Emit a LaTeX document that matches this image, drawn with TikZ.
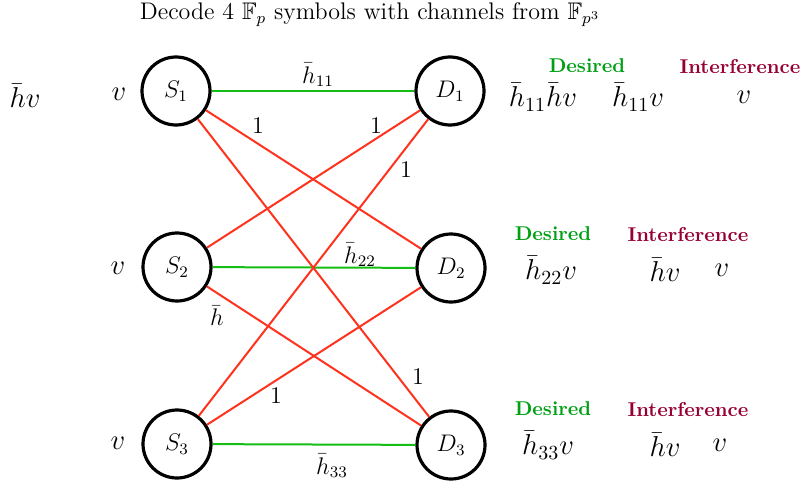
\documentclass[tikz,border=0pt]{standalone}
\usepackage{amssymb}
\definecolor{lgreen}{RGB}{20,190,20}
\definecolor{lred}{RGB}{255,50,30}
\definecolor{dgreen}{RGB}{0,160,20}
\definecolor{dpurple}{RGB}{150,0,50}
\begin{document}
\begin{tikzpicture}[x=0.5pt,y=-0.5pt,
  nd/.style={circle,draw,line width=1.6pt,minimum size=34pt,inner sep=0pt,font=\large},
  ge/.style={draw=lgreen,line width=1pt},
  re/.style={draw=lred,line width=1pt},
  lab/.style={inner sep=0pt,font=\large},
  big/.style={inner sep=0pt,font=\Large},
  des/.style={inner sep=0pt,text=dgreen,font=\bfseries},
  itf/.style={inner sep=0pt,text=dpurple,font=\bfseries}]
\useasboundingbox (0,0) rectangle (803,487);
\node (S1) [nd] at (176,91) {$S_1$};
\node (S2) [nd] at (177,267) {$S_2$};
\node (S3) [nd] at (177,444) {$S_3$};
\node (D1) [nd] at (450,91) {$D_1$};
\node (D2) [nd] at (451,268) {$D_2$};
\node (D3) [nd] at (451,445) {$D_3$};
\draw[ge] (S1) -- (D1);
\draw[ge] (S2) -- (D2);
\draw[ge] (S3) -- (D3);
\draw[re] (S1) -- (D2);
\draw[re] (S1) -- (D3);
\draw[re] (S2) -- (D1);
\draw[re] (S2) -- (D3);
\draw[re] (S3) -- (D1);
\draw[re] (S3) -- (D2);
\node (title) [inner sep=0pt,font=\large] at (370,15) {Decode 4 $\mathbb{F}_p$ symbols with channels from $\mathbb{F}_{p^3}$};
\node (hv0) [big] at (25,96) {$\bar{h}v$};
\node (v1) [big] at (119,94) {$v$};
\node (v2) [big] at (118,268) {$v$};
\node (v3) [big] at (118,443) {$v$};
\node (l11) [lab] at (318,75) {$\bar{h}_{11}$};
\node (la) [lab] at (258,126) {$1$};
\node (lb) [lab] at (376,126) {$1$};
\node (lc) [lab] at (406,170) {$1$};
\node (l22) [lab] at (360,255) {$\bar{h}_{22}$};
\node (lh) [lab] at (217,316) {$\bar{h}$};
\node (ld) [lab] at (418,377) {$1$};
\node (le) [lab] at (276,396) {$1$};
\node (l33) [lab] at (332,466) {$\bar{h}_{33}$};
\node (d1) [des] at (587,66) {Desired};
\node (i1) [itf] at (740,67) {Interference};
\node (r1a) [big] at (543,97) {$\bar{h}_{11}\bar{h}v$};
\node (r1b) [big] at (638,97) {$\bar{h}_{11}v$};
\node (r1c) [big] at (744,97) {$v$};
\node (d2) [des] at (553,234) {Desired};
\node (i2) [itf] at (688,235) {Interference};
\node (r2a) [big] at (551,270) {$\bar{h}_{22}v$};
\node (r2b) [big] at (665,270) {$\bar{h}v$};
\node (r2c) [big] at (722,270) {$v$};
\node (d3) [des] at (553,409) {Desired};
\node (i3) [itf] at (688,410) {Interference};
\node (r3a) [big] at (548,445) {$\bar{h}_{33}v$};
\node (r3b) [big] at (665,445) {$\bar{h}v$};
\node (r3c) [big] at (720,445) {$v$};
\end{tikzpicture}
\end{document}
